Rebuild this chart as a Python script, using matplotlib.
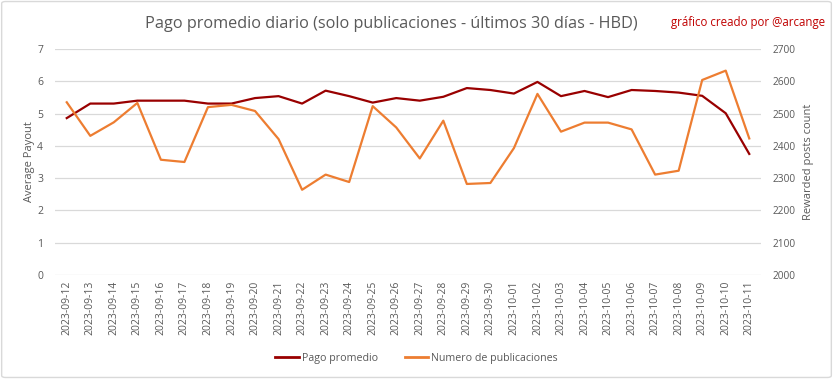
import matplotlib
matplotlib.use("Agg")
import matplotlib.pyplot as plt
from matplotlib.patches import FancyBboxPatch
from matplotlib.lines import Line2D

dates = ["2023-09-12", "2023-09-13", "2023-09-14", "2023-09-15", "2023-09-16",
         "2023-09-17", "2023-09-18", "2023-09-19", "2023-09-20", "2023-09-21",
         "2023-09-22", "2023-09-23", "2023-09-24", "2023-09-25", "2023-09-26",
         "2023-09-27", "2023-09-28", "2023-09-29", "2023-09-30", "2023-10-01",
         "2023-10-02", "2023-10-03", "2023-10-04", "2023-10-05", "2023-10-06",
         "2023-10-07", "2023-10-08", "2023-10-09", "2023-10-10", "2023-10-11"]

pago_promedio = [4.86, 5.31, 5.31, 5.40, 5.40, 5.40, 5.31, 5.31, 5.48, 5.54,
                 5.31, 5.71, 5.54, 5.34, 5.48, 5.40, 5.52, 5.79, 5.73, 5.62,
                 5.98, 5.54, 5.70, 5.51, 5.73, 5.70, 5.65, 5.55, 5.01, 3.75]

numero_publicaciones = [2535, 2431, 2473, 2533, 2357, 2350, 2520, 2527, 2508, 2421,
                        2264, 2311, 2288, 2523, 2457, 2361, 2478, 2282, 2285, 2393,
                        2561, 2444, 2472, 2472, 2451, 2311, 2323, 2604, 2633, 2423]

left_ticks = [0, 1, 2, 3, 4, 5, 6, 7]
right_ticks = [2000, 2100, 2200, 2300, 2400, 2500, 2600, 2700]

title = "Pago promedio diario (solo publicaciones - últimos 30 días - HBD)"
credit = "gráfico creado por @arcange"

plt.rcParams['font.family'] = ['Open Sans', 'DejaVu Sans']
TXT = "#595959"
RED = "#990000"
ORANGE = "#ED7D31"
GRID = "#D9D9D9"

fig = plt.figure(figsize=(8.33, 3.79), dpi=100)
fig.patch.set_facecolor("white")

ax = fig.add_axes([0.066, 0.2744, 0.8476, 0.5963])
ax2 = ax.twinx()

x = list(range(len(dates)))
ax.plot(x, pago_promedio, color=RED, lw=1.6, zorder=3)
ax2.plot(x, numero_publicaciones, color=ORANGE, lw=1.6, zorder=2)

ax.set_xlim(-0.5, len(dates) - 0.5)
ax.set_ylim(0, 7)
ax2.set_ylim(2000, 2700)
ax.set_yticks(left_ticks)
ax2.set_yticks(right_ticks)
ax.set_xticks(x)
ax.set_xticklabels(dates, rotation=90, fontsize=7.5, color=TXT)
ax.tick_params(axis='y', labelsize=7.5, colors=TXT, length=0, pad=8.5)
ax2.tick_params(axis='y', labelsize=7.3, colors=TXT, length=0, pad=8.5)
ax.tick_params(axis='x', length=0, pad=4)
ax.grid(axis='y', color=GRID, lw=0.9)
ax.set_axisbelow(True)
for a in (ax, ax2):
    for s in a.spines.values():
        s.set_visible(False)

ax.set_ylabel("Average Payout", fontsize=8, color=TXT)
ax2.set_ylabel("Rewarded posts count", fontsize=8, color=TXT)
ax.yaxis.set_label_coords(-0.029, 0.5)
ax2.yaxis.set_label_coords(1.059, 0.5)

fig.text(0.47, 0.937, title, ha='center', va='center', fontsize=11.7, color=TXT)
fig.text(0.898, 0.94, credit, ha='center', va='center', fontsize=8.3, color="#C00000")

handles = [Line2D([0], [0], color=RED, lw=2), Line2D([0], [0], color=ORANGE, lw=2)]
fig.legend(handles, ["Pago promedio", "Numero de publicaciones"], loc='center',
           bbox_to_anchor=(0.5, 0.055), ncol=2, frameon=False, fontsize=7.7,
           labelcolor=TXT, handlelength=2.2, handletextpad=0.3, columnspacing=2.5)

border = FancyBboxPatch((0.002, 0.004), 0.996, 0.992, boxstyle="round,pad=0,rounding_size=0.005",
                        transform=fig.transFigure, fill=False, edgecolor=GRID, lw=1)
fig.patches.append(border)

fig.savefig("out.png", dpi=100)
